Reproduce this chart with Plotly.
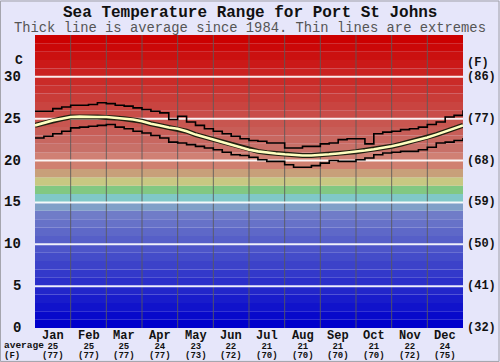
import numpy as np
import plotly.graph_objects as go

months = ["Jan", "Feb", "Mar", "Apr", "May", "Jun", "Jul", "Aug", "Sep", "Oct", "Nov", "Dec"]
month_avg_c = ["25", "25", "25", "24", "23", "22", "21", "21", "21", "21", "22", "24"]
month_avg_f = ["(77)", "(77)", "(77)", "(77)", "(73)", "(72)", "(70)", "(70)", "(70)", "(70)", "(72)", "(75)"]
c_ticks = [0, 5, 10, 15, 20, 25, 30]
f_ticks = ["(32)", "(41)", "(50)", "(59)", "(68)", "(77)", "(86)"]

# sampled every quarter month, from start of Jan to end of Dec (month units)
avg_temp = [24.2, 24.5, 24.8, 25.0, 25.2, 25.25, 25.2, 25.2, 25.2, 25.1, 25.0, 24.9,
            24.7, 24.4, 24.2, 23.95, 23.8, 23.5, 23.1, 22.8, 22.5, 22.2, 21.9, 21.6,
            21.3, 21.1, 20.95, 20.85, 20.75, 20.65, 20.6, 20.6, 20.65, 20.75, 20.85, 20.95,
            21.05, 21.2, 21.35, 21.5, 21.7, 21.95, 22.2, 22.45, 22.75, 23.1, 23.45, 23.8, 24.2]
max_temp = [25.9, 25.9, 26.2, 26.4, 26.6, 26.6, 26.7, 26.9, 26.8, 26.6, 26.5, 26.3,
            26.1, 25.9, 25.7, 24.9, 25.3, 24.6, 24.2, 23.8, 23.5, 23.2, 22.9, 22.6,
            22.4, 22.3, 22.1, 22.1, 21.5, 21.5, 21.7, 21.7, 22.0, 22.1, 22.5, 22.6,
            22.6, 22.0, 23.2, 23.4, 23.5, 23.7, 23.8, 24.0, 24.3, 24.6, 25.2, 25.4, 26.0]
min_temp = [22.7, 22.9, 23.2, 23.5, 23.9, 24.0, 24.1, 24.2, 24.3, 24.0, 23.8, 23.5,
            23.3, 23.0, 22.7, 22.2, 22.1, 21.9, 21.7, 21.5, 21.3, 21.0, 20.7, 20.6,
            20.4, 20.1, 19.9, 19.9, 19.5, 19.2, 19.2, 19.4, 19.7, 20.0, 19.9, 19.9,
            20.1, 20.3, 20.7, 20.9, 21.0, 21.1, 21.1, 21.3, 21.6, 22.1, 22.2, 22.4, 22.7]

x = np.linspace(0, 12, len(avg_temp))

W, H = 500, 362
L, R, T, B = 35, 37, 35, 34
PW, PH = W - L - R, H - T - B
YMAX = 35

def band_color(t):
    if t >= 21:
        f = (34 - t) / 13.0
        return "rgb(%d,%d,%d)" % (204 - 4 * f, 0 + 112 * f, 0 + 104 * f)
    special = {20: (208, 128, 116), 19: (208, 128, 112), 18: (200, 160, 122),
               17: (200, 200, 130), 16: (130, 200, 130), 15: (128, 200, 200),
               14: (128, 160, 200)}
    if t in special:
        return "rgb(%d,%d,%d)" % special[t]
    f = t / 13.0
    return "rgb(%d,%d,%d)" % (0 + 112 * f, 0 + 124 * f, 204 - 4 * f)

shapes = []
for t in range(0, YMAX):
    shapes.append(dict(type="rect", xref="paper", yref="y", x0=0, x1=1, y0=t, y1=t + 1,
                       fillcolor=band_color(t), line=dict(width=0), layer="below"))
for m in range(1, 12):
    shapes.append(dict(type="line", xref="x", yref="paper", x0=m, x1=m, y0=0, y1=1,
                       line=dict(color="rgba(90,90,90,0.85)", width=1), layer="below"))
for c in c_ticks[1:]:
    shapes.append(dict(type="line", xref="paper", yref="y", x0=0, x1=1, y0=c, y1=c,
                       line=dict(color="rgba(255,255,255,0.9)", width=2), layer="below"))
# outer frame
shapes.append(dict(type="rect", xref="paper", yref="paper",
                   x0=-L / PW + 0.001, x1=1 + (R - 1) / PW, y0=-B / PH + 0.002, y1=1 + (T - 1) / PH,
                   line=dict(color="#a0a0a8", width=1), fillcolor="rgba(0,0,0,0)", layer="below"))

fig = go.Figure()
fig.add_trace(go.Scatter(x=x, y=max_temp, mode="lines", line=dict(color="black", width=1.6, shape="hv"),
                         hoverinfo="skip"))
fig.add_trace(go.Scatter(x=x, y=min_temp, mode="lines", line=dict(color="black", width=1.6, shape="hv"),
                         hoverinfo="skip"))
fig.add_trace(go.Scatter(x=x, y=avg_temp, mode="lines", line=dict(color="#202010", width=5),
                         hoverinfo="skip"))
fig.add_trace(go.Scatter(x=x, y=avg_temp, mode="lines", line=dict(color="#ffffc0", width=2.6),
                         hoverinfo="skip"))

mono = "Liberation Mono, Courier New, monospace"
ann = []
ann.append(dict(text="<b>Sea Temperature Range for Port St Johns</b>", xref="paper", yref="paper",
                x=0.5 - (L - R) / 2 / PW, y=1 + (T - 13) / PH, showarrow=False,
                font=dict(family=mono, size=16, color="#111"), xanchor="center", yanchor="middle"))
ann.append(dict(text="Thick line is average since 1984. Thin lines are extremes", xref="paper", yref="paper",
                x=0.5 - (L - R) / 2 / PW, y=1 + (T - 28) / PH, showarrow=False,
                font=dict(family=mono, size=13.8, color="#555"), xanchor="center", yanchor="middle"))
for c, f in zip(c_ticks, f_ticks):
    ann.append(dict(text="<b>%d</b>" % c, xref="paper", yref="y", x=-12 / PW, y=c, showarrow=False,
                    xanchor="right", yanchor="middle", font=dict(family=mono, size=14, color="#111")))
    ann.append(dict(text="<b>%s</b>" % f, xref="paper", yref="y", x=1 + 2 / PW, y=c, showarrow=False,
                    xanchor="left", yanchor="middle", font=dict(family=mono, size=12, color="#111")))
ann.append(dict(text="<b>C</b>", xref="paper", yref="paper", x=-16 / PW, y=1 - 25 / PH, showarrow=False,
                xanchor="center", yanchor="middle", font=dict(family=mono, size=13, color="#111")))
ann.append(dict(text="<b>(F)</b>", xref="paper", yref="paper", x=1 + 2 / PW, y=1 - 28 / PH, showarrow=False,
                xanchor="left", yanchor="middle", font=dict(family=mono, size=12, color="#111")))
for i, (mn, ac, af) in enumerate(zip(months, month_avg_c, month_avg_f)):
    txt = ("<span style='font-size:12px'><b>%s</b></span><br>"
           "<span style='font-size:9px'><b>%s</b></span><br>"
           "<span style='font-size:9px'><b>%s</b></span>") % (mn, ac, af)
    ann.append(dict(text=txt, xref="x", yref="paper", x=i + 0.5, y=1 / PH, showarrow=False,
                    xanchor="center", yanchor="top", align="center",
                    font=dict(family=mono, size=7.4, color="#111")))
ann.append(dict(text="<span style='font-size:9.5px'><b>average</b></span><br>"
                     "<span style='font-size:9px'><b>(F)</b></span>",
                xref="paper", yref="paper", x=-33 / PW, y=-10 / PH, showarrow=False,
                xanchor="left", yanchor="top", align="left",
                font=dict(family=mono, size=7.4, color="#111")))

fig.update_layout(
    width=W, height=H, margin=dict(l=L, r=R, t=T, b=B, pad=0),
    paper_bgcolor="#e6e6fa", plot_bgcolor="#e6e6fa",
    showlegend=False, shapes=shapes, annotations=ann,
    xaxis=dict(range=[0, 12], showgrid=False, zeroline=False, showticklabels=False, ticks="", fixedrange=True),
    yaxis=dict(range=[0, YMAX], showgrid=False, zeroline=False, showticklabels=False, ticks="", fixedrange=True),
)
fig.write_html("out.html", config={"displayModeBar": False, "staticPlot": True},
               post_script="document.body.style.margin='0px';document.body.style.padding='0px';")
